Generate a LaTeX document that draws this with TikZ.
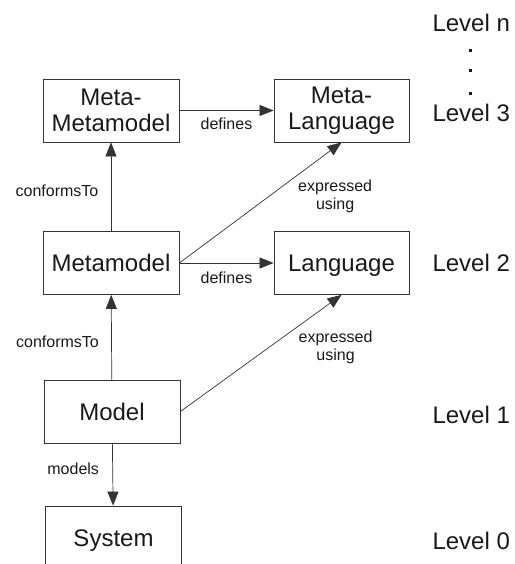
\documentclass[tikz,border=0pt]{standalone}
\usepackage{fontspec}
\setmainfont{Liberation Sans}
\usetikzlibrary{arrows.meta, positioning}

\begin{document}
\begin{tikzpicture}[
            x=1pt, y=-1pt,
            every node/.style = {text=black!90},
            box/.style   = {draw=black!80, line width=0.8pt, minimum width=136pt,
                            minimum height=63pt, align=center,
                            font=\fontsize{24}{26}\selectfont},
            single/.style = {text height=17.5pt, text depth=0pt},
            rel/.style   = {draw=black!80, line width=0.7pt,
                            -{Triangle[length=14pt, width=11pt]}},
            lbl/.style   = {font=\fontsize{16}{18}\selectfont, align=center},
            level/.style = {anchor=west, font=\fontsize{24}{26}\selectfont}
                        ]
            \useasboundingbox (0,0) rectangle (514,564);
            % boxes
            \node[box] (mmm)    at (111,110.5)   {Meta-\\Metamodel};
            \node[box, minimum width=135pt] (mlang) at (341.5,110.5) {Meta-\\Language};
            \node[box, single] (mm)     at (111,263)     {Metamodel};
            \node[box, single, minimum width=135pt] (lang)  at (341.5,263)   {Language};
            \node[box, single] (model)  at (112,411.5)   {Model};
            \node[box, single] (system) at (113.5,537.5) {System};
            % relations
            \draw[rel] (mm) -- node[lbl, pos=0.45, left=9pt] {conformsTo} (mmm);
            \draw[rel] (model) -- node[lbl, pos=0.45, left=9pt] {conformsTo} (mm);
            \draw[rel] (model) -- node[lbl, pos=0.4, left=10pt] {models} (system);
            \draw[rel] (mmm) -- node[lbl, below=4pt] {defines} (mlang);
            \draw[rel] (mm) -- node[lbl, below=5pt] {defines} (lang);
            \draw[rel] (mm.east) -- node[lbl, pos=0.55, right=26pt] {expressed\\using} (mlang.south);
            \draw[rel] (model.east) -- node[lbl, pos=0.55, right=26pt] {expressed\\using} (lang.south);
            % levels
            \node[level] (ln) at (429,23)  {Level n};
            \node[level] (l3) at (429,113) {Level 3};
            \node[level] (l2) at (429,263) {Level 2};
            \node[level] (l1) at (429,415) {Level 1};
            \node[level] (l0) at (429,541) {Level 0};
            \foreach \y in {51,71,94}
                \fill[black!90] (468.5,\y-1.5) rectangle ++(3,3);
    \end{tikzpicture}
\end{document}
